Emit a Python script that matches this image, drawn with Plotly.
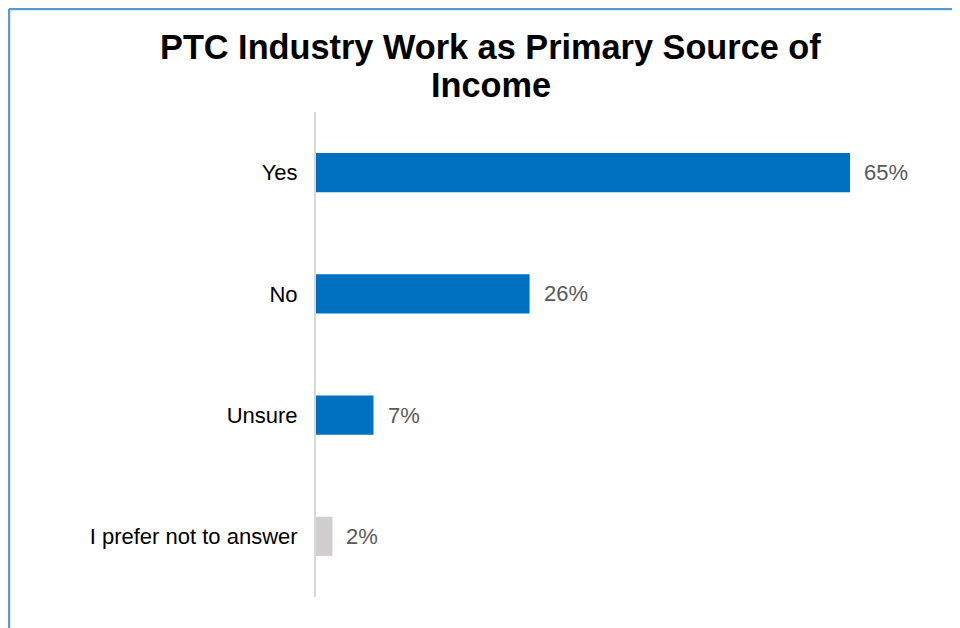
import plotly.graph_objects as go

categories = ["Yes", "No", "Unsure", "I prefer not to answer"]
shares = [65, 26, 7, 2]
bar_colors = ["#0070C0", "#0070C0", "#0070C0", "#D0CECE"]
title_lines = ["PTC Industry Work as Primary Source of", "Income"]

W, H = 952, 620
L, T, B, R = 308, 104, 31, 20
pw, ph = W - L - R, H - T - B

fig = go.Figure(go.Bar(
    x=shares,
    y=categories,
    orientation="h",
    marker=dict(color=bar_colors, line=dict(width=0)),
    width=0.324,
    hoverinfo="skip",
))

# value labels to the right of each bar
for cat, val in zip(categories, shares):
    fig.add_annotation(
        x=val, y=cat, text=f"{val}%", showarrow=False,
        xanchor="left", yanchor="middle", xshift=12,
        font=dict(family="Liberation Sans, Arial", size=22, color="#595959"),
    )

# two-line title
fig.add_annotation(x=0.28, y=1.134, xref="paper", yref="paper", text=f"<b>{title_lines[0]}</b>",
                   showarrow=False, xanchor="center", yanchor="middle",
                   font=dict(family="Liberation Sans, Arial", size=34.3, color="black"))
fig.add_annotation(x=0.28, y=1.0557, xref="paper", yref="paper", text=f"<b>{title_lines[1]}</b>",
                   showarrow=False, xanchor="center", yanchor="middle",
                   font=dict(family="Liberation Sans, Arial", size=34.3, color="black"))

# blue frame: only the left and top edges are visible
fx0, fx1 = (1 - L) / pw, (W - L) / pw
fy0, fy1 = 1 - (H - T) / ph, 1 + (T - 1) / ph
for x0, y0, x1, y1 in [(fx0, fy1, fx1, fy1), (fx0, fy0, fx0, fy1)]:
    fig.add_shape(type="line", xref="paper", yref="paper", x0=x0, y0=y0, x1=x1, y1=y1,
                  line=dict(color="#5B9BD5", width=2.5), layer="below")

fig.update_layout(
    width=W, height=H,
    margin=dict(l=L, r=R, t=T, b=B),
    paper_bgcolor="white", plot_bgcolor="white",
    showlegend=False,
    font=dict(family="Liberation Sans, Arial", color="black"),
    xaxis=dict(range=[0, pw / 8.215], visible=False, fixedrange=True),
    yaxis=dict(
        categoryorder="array", categoryarray=categories[::-1],
        showline=True, linecolor="#D9D9D9", linewidth=2,
        showgrid=False, ticks="", ticklabelstandoff=12,
        tickfont=dict(size=22, color="black"),
        range=[-0.5, 3.5], fixedrange=True,
    ),
)

fig.write_html("out.html", config={"displayModeBar": False})
